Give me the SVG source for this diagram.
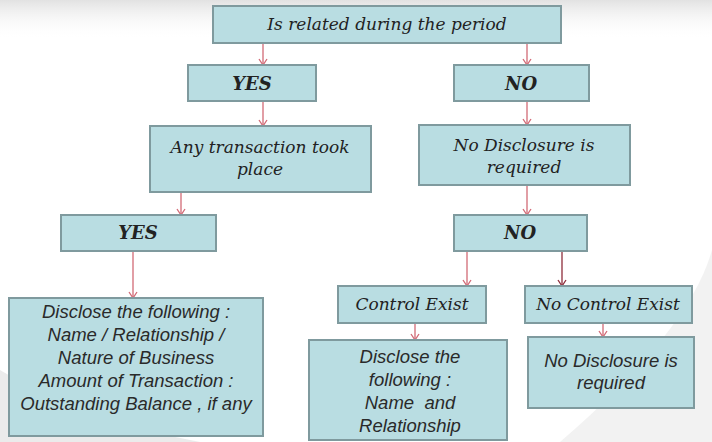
<svg xmlns="http://www.w3.org/2000/svg" width="712" height="442" viewBox="0 0 712 442">
<defs>
<linearGradient id="topg" x1="0" y1="0" x2="0" y2="1">
<stop offset="0" stop-color="#e2e2e2"/>
<stop offset="1" stop-color="#ffffff" stop-opacity="0"/>
</linearGradient>
<marker id="ah" markerWidth="10" markerHeight="10" refX="8" refY="5" orient="auto" markerUnits="userSpaceOnUse" viewBox="0 0 10 10">
<path d="M2,1 L8,5 L2,9" fill="none" stroke="#d26a76" stroke-width="1.3"/>
</marker>
<marker id="ahd" markerWidth="10" markerHeight="10" refX="8" refY="5" orient="auto" markerUnits="userSpaceOnUse" viewBox="0 0 10 10">
<path d="M2,1 L8,5 L2,9" fill="none" stroke="#8e2d3b" stroke-width="1.3"/>
</marker>
</defs>
<style>
.box{fill:#b9dde2;stroke:#7f9a9e;stroke-width:2}
.ser{font-family:"DejaVu Serif","Liberation Serif",serif;font-style:italic;fill:#222;text-anchor:middle;font-size:17px}
.bold{font-weight:bold;font-size:18px}
.sans{font-family:"Liberation Sans",Arial,sans-serif;font-style:italic;fill:#2a2a2a;text-anchor:middle;font-size:18.5px}
.con{stroke:#d26a76;stroke-width:1.3;fill:none;marker-end:url(#ah)}
.cond{stroke:#8e2d3b;stroke-width:1.3;fill:none;marker-end:url(#ahd)}
</style>
<rect x="0" y="0" width="712" height="442" fill="#ffffff"/>
<rect x="0" y="0" width="712" height="40" fill="url(#topg)"/>
<path d="M0,370 Q80,420 200,442 L0,442 Z" fill="#e6e6e6" opacity="0.8"/>
<path d="M712,250 Q690,330 560,442 L712,442 Z" fill="#ececec" opacity="0.7"/>

<g id="connectors">
<line class="con" x1="263" y1="43" x2="263" y2="65"/>
<line class="con" x1="527" y1="43" x2="527" y2="65"/>
<line class="con" x1="263" y1="101" x2="263" y2="126"/>
<line class="con" x1="527" y1="101" x2="527" y2="125"/>
<line class="con" x1="181" y1="192" x2="181" y2="215"/>
<line class="con" x1="527" y1="185" x2="527" y2="215"/>
<line class="con" x1="133" y1="251" x2="133" y2="298"/>
<line class="con" x1="467" y1="251" x2="467" y2="286"/>
<line class="cond" x1="562" y1="251" x2="562" y2="286"/>
<line class="con" x1="415" y1="323" x2="415" y2="340"/>
<line class="con" x1="603" y1="323" x2="603" y2="337"/>
</g>

<g id="n-period">
<rect class="box" x="213" y="6" width="348" height="37"/>
<text class="ser" x="387" y="30">Is related during the period</text>
</g>
<g id="n-yes1">
<rect class="box" x="188" y="65" width="128" height="36"/>
<text class="ser bold" x="252" y="90">YES</text>
</g>
<g id="n-no1">
<rect class="box" x="454" y="65" width="135" height="36"/>
<text class="ser bold" x="521" y="90">NO</text>
</g>
<g id="n-any">
<rect class="box" x="150" y="126" width="221" height="66"/>
<text class="ser" x="260" y="153">Any transaction took</text>
<text class="ser" x="260" y="175">place</text>
</g>
<g id="n-nodisc1">
<rect class="box" x="419" y="125" width="211" height="60"/>
<text class="ser" x="524" y="151">No Disclosure is</text>
<text class="ser" x="524" y="173">required</text>
</g>
<g id="n-yes2">
<rect class="box" x="61" y="215" width="155" height="36"/>
<text class="ser bold" x="138" y="239">YES</text>
</g>
<g id="n-no2">
<rect class="box" x="454" y="215" width="133" height="36"/>
<text class="ser bold" x="520" y="239">NO</text>
</g>
<g id="n-control">
<rect class="box" x="338" y="286" width="148" height="37"/>
<text class="ser" x="412" y="310">Control Exist</text>
</g>
<g id="n-nocontrol">
<rect class="box" x="525" y="286" width="167" height="37"/>
<text class="ser" x="608" y="310">No Control Exist</text>
</g>
<g id="n-disclose1">
<rect class="box" x="9" y="298" width="254" height="138"/>
<text class="sans" x="136" y="318">Disclose the following :</text>
<text class="sans" x="136" y="341">Name / Relationship /</text>
<text class="sans" x="136" y="364">Nature of Business</text>
<text class="sans" x="136" y="387">Amount of Transaction :</text>
<text class="sans" x="136" y="410">Outstanding Balance , if any</text>
</g>
<g id="n-disclose2">
<rect class="box" x="309" y="340" width="198" height="100"/>
<text class="sans" x="410" y="363">Disclose the</text>
<text class="sans" x="410" y="386">following :</text>
<text class="sans" x="410" y="409" xml:space="preserve">Name  and</text>
<text class="sans" x="410" y="432">Relationship</text>
</g>
<g id="n-nodisc2">
<rect class="box" x="528" y="337" width="166" height="71"/>
<text class="sans" x="611" y="367">No Disclosure is</text>
<text class="sans" x="611" y="389">required</text>
</g>
</svg>
